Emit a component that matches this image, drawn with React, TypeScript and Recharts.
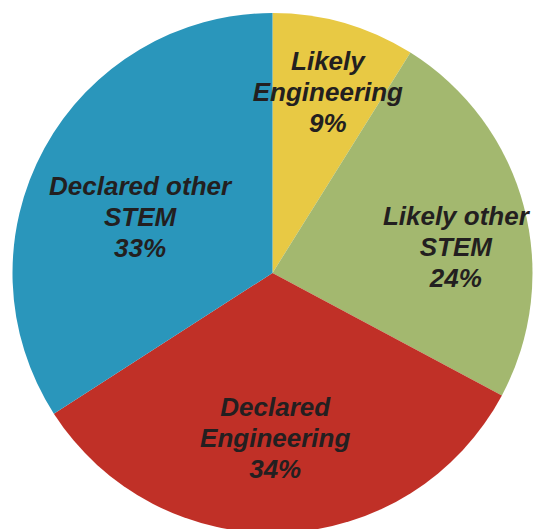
import { Cell, Pie, PieChart } from "recharts";

const categories = ["Likely Engineering", "Likely other STEM", "Declared Engineering", "Declared other STEM"];
const labelLines = [
  ["Likely", "Engineering"],
  ["Likely other", "STEM"],
  ["Declared", "Engineering"],
  ["Declared other", "STEM"],
];
// slice sizes as drawn in the picture (percent)
const shares = [8.9, 23.9, 33.1, 34.1];
// percentages as printed on the slices
const percentLabels = ["9%", "24%", "34%", "33%"];
const colors = ["#E8C944", "#A3B86F", "#C03027", "#2A96BB"];

const data = categories.map((name, i) => ({ name, value: shares[i] }));

// label placement tweaks per slice: radius fraction, angle shift (deg, clockwise)
const labelRadius = [0.728, 0.712, 0.635, 0.553];
const labelShift = [1, 7, 1.4, -5.7];

const RAD = Math.PI / 180;

const renderLabel = (props: any) => {
  const { cx, cy, midAngle, outerRadius, index } = props;
  const r = outerRadius * labelRadius[index];
  const a = (midAngle - labelShift[index]) * RAD;
  const x = cx + r * Math.cos(a);
  const y = cy - r * Math.sin(a);
  const lines = [...labelLines[index], percentLabels[index]];
  return (
    <text
      x={x}
      y={y}
      textAnchor="middle"
      dominantBaseline="central"
      fill="#231F20"
      fontFamily="'Liberation Sans', Arial, sans-serif"
      fontSize={26}
      fontWeight="bold"
      fontStyle="italic"
    >
      {lines.map((line, i) => (
        <tspan key={i} x={x} y={y + (i - 1) * 31} dominantBaseline="central">
          {line}
        </tspan>
      ))}
    </text>
  );
};

export default function App() {
  return (
    <div style={{ position: "fixed", left: 0, top: 0, width: 533, height: 529, overflow: "hidden", background: "#fff" }}>
      <PieChart width={533} height={529} margin={{ top: 0, right: 0, bottom: 0, left: 0 }}>
        <Pie
          data={data}
          dataKey="value"
          nameKey="name"
          cx={272.5}
          cy={273}
          outerRadius={260}
          startAngle={90}
          endAngle={-270}
          stroke="none"
          labelLine={false}
          label={renderLabel}
          isAnimationActive={false}
        >
          {data.map((d, i) => (
            <Cell key={d.name} fill={colors[i]} />
          ))}
        </Pie>
      </PieChart>
    </div>
  );
}
